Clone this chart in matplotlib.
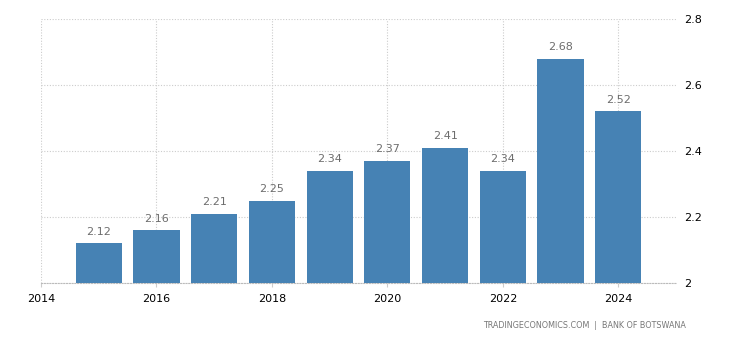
import matplotlib
matplotlib.use("Agg")
import matplotlib.pyplot as plt

years = [2015, 2016, 2017, 2018, 2019, 2020, 2021, 2022, 2023, 2024]
values = [2.12, 2.16, 2.21, 2.25, 2.34, 2.37, 2.41, 2.34, 2.68, 2.52]
xticks = [2014, 2016, 2018, 2020, 2022, 2024]
yticks = [2.0, 2.2, 2.4, 2.6, 2.8]
ytick_labels = ["2", "2.2", "2.4", "2.6", "2.8"]
source = "TRADINGECONOMICS.COM  |  BANK OF BOTSWANA"

fig = plt.figure(figsize=(7.3, 3.4), dpi=100)
ax = fig.add_axes([41/730, 1-283/340, (676-41)/730, (283-19)/340])
ax.bar(years, values, width=0.8, color="#4682b4", zorder=3)
for x, v in zip(years, values):
    ax.text(x, v + 0.02, f"{v:.2f}", ha="center", va="bottom", fontsize=8, color="#6d6d6d")
ax.set_xlim(2014, 2025)
ax.set_ylim(2.0, 2.8)
ax.set_xticks(xticks)
ax.set_xticklabels([str(t) for t in xticks])
ax.set_yticks(yticks)
ax.set_yticklabels(ytick_labels)
ax.yaxis.tick_right()
ax.tick_params(axis="y", length=0, pad=6, labelsize=8, colors="black")
ax.tick_params(axis="x", length=3, color="#cccccc", pad=5, labelsize=8)
for s in ["top", "right", "left"]:
    ax.spines[s].set_visible(False)
ax.spines["bottom"].set_linestyle((0, (1, 1.5)))
ax.spines["bottom"].set_color("#bbbbbb")
ax.grid(True, color="#cccccc", linestyle=(0, (1, 1.5)), linewidth=0.8, zorder=0)
fig.text(686/730, 1-325/340, source, ha="right", va="center", fontsize=5.8, color="#777777")
fig.savefig("out.png", dpi=100)
